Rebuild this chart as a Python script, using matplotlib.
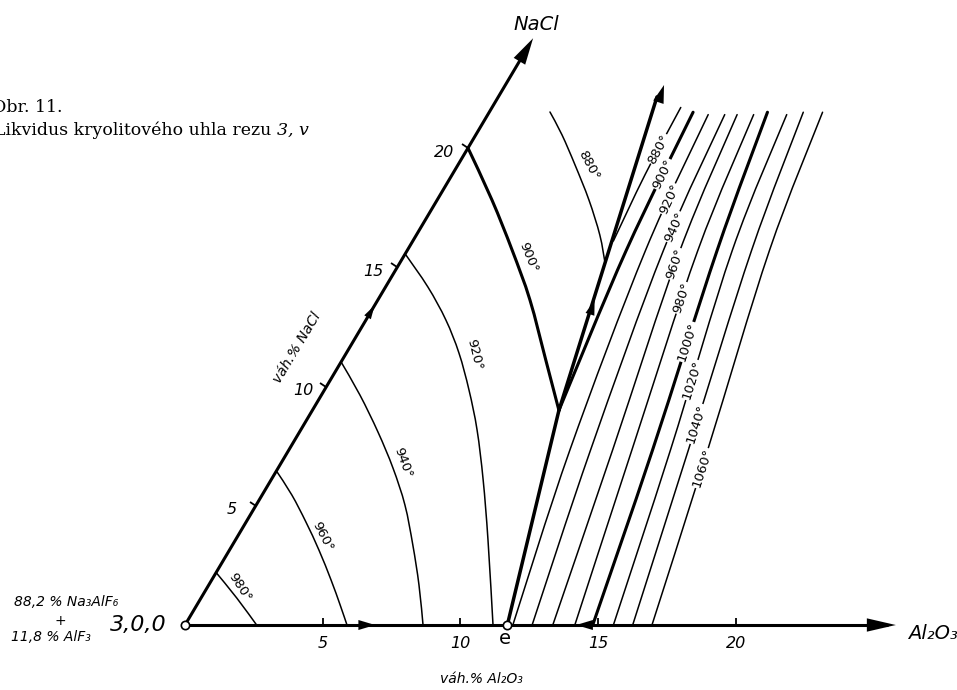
import numpy as np
import matplotlib
matplotlib.use("Agg")
import matplotlib.pyplot as plt
from matplotlib.path import Path
from matplotlib.patches import PathPatch
from matplotlib.markers import MarkerStyle
from matplotlib.transforms import Affine2D

# ---------------- data (composition: wt.% Al2O3, wt.% NaCl) ----------------
axis_ticks = [5, 10, 15, 20]
al2o3_axis_end = 25.8
nacl_axis_end = 24.6
e_point = (11.7, 0.0)
p_point = (8.95, 9.0)
boundary_top = (5.76, 22.64)

# isotherms in the cryolite primary field (left)
left_labels = ["980°", "960°", "940°", "920°", "900°", "880°"]
iso980_a = [0.0, 1.3, 2.6]
iso980_n = [2.2, 1.13, 0.0]
iso960_a = [0.0, 1.08, 2.17, 3.25, 4.33, 5.2, 5.88]
iso960_n = [6.46, 5.45, 4.32, 3.14, 1.89, 0.84, 0.0]
iso940_a = [0.0, 1.4, 2.85, 4.17, 5.4, 6.55, 7.63, 8.64]
iso940_n = [11.03, 9.64, 8.09, 6.58, 5.03, 3.35, 1.68, 0.0]
iso920_a = [0.0, 1.54, 2.9, 4.09, 5.25, 6.4, 7.7, 9.17, 11.18]
iso920_n = [15.56, 14.17, 12.79, 11.4, 9.85, 8.18, 6.08, 3.56, 0.0]
iso900_a = [0.0, 1.99, 3.8, 5.52, 7.39, 8.95]
iso900_n = [20.0, 17.82, 15.72, 13.63, 11.11, 9.0]
iso880_a = [2.2, 3.13, 4.25, 5.51, 6.66, 7.45]
iso880_n = [21.51, 20.55, 19.29, 17.82, 16.35, 15.18]

# isotherms in the alumina primary field (right)
right_labels = ["880°", "900°", "920°", "940°", "960°", "980°", "1000°", "1020°", "1040°", "1060°"]
r880_a = [6.85, 7.0, 7.28];           r880_n = [21.7, 18.9, 16.1]
r900_a = [7.4, 7.95, 8.95];           r900_n = [21.5, 15.7, 9.0]
r920_a = [8.0, 8.65, 10.2, 11.9];     r920_n = [21.4, 15.7, 7.35, 0.0]
r940_a = [8.6, 9.3, 10.95, 12.6];     r940_n = [21.4, 15.7, 7.35, 0.0]
r960_a = [9.05, 9.9, 11.75, 13.35];   r960_n = [21.4, 15.7, 7.35, 0.0]
r980_a = [9.65, 10.55, 12.45, 14.15]; r980_n = [21.4, 15.7, 7.35, 0.0]
r1000_a = [10.1, 11.25, 13.2, 14.8];  r1000_n = [21.5, 15.7, 7.35, 0.0]
r1020_a = [10.85, 11.8, 13.85, 15.55]; r1020_n = [21.4, 15.7, 7.35, 0.0]
r1040_a = [11.4, 12.5, 14.5, 16.25];  r1040_n = [21.5, 15.7, 7.35, 0.0]
r1060_a = [12.1, 13.15, 15.2, 16.95]; r1060_n = [21.5, 15.7, 7.35, 0.0]
right_label_n = [19.96, 18.9, 17.86, 16.69, 15.14, 13.71, 11.87, 10.27, 8.43, 6.58]

# ---------------- geometry ----------------
SK, H = 0.5136, 0.8657   # direction of the NaCl axis in the drawing


def xy(a, n):
    a = np.asarray(a, float)
    n = np.asarray(n, float)
    return a + SK * n, H * n


W, HT = 957, 690
fig = plt.figure(figsize=(W / 100, HT / 100), dpi=100)
ax = fig.add_axes([0, 0, 1, 1])
ax.set_xlim(-6.715, 28.022)
ax.set_ylim(-2.359, 22.686)
ax.axis("off")


def fx(px):
    return px / W


def fy(py):
    return 1 - py / HT


def draw_curve(a, n, lw):
    X, Y = xy(a, n)
    pts = np.column_stack([X, Y])
    m = len(pts)
    if m == 2:
        path = Path(pts)
    else:
        verts = [pts[0]]
        codes = [Path.MOVETO]
        for i in range(m - 1):
            p0 = pts[i - 1] if i > 0 else pts[i]
            p1 = pts[i]
            p2 = pts[i + 1]
            p3 = pts[i + 2] if i + 2 < m else pts[i + 1]
            c1 = p1 + (p2 - p0) / 6
            c2 = p2 - (p3 - p1) / 6
            verts += [c1, c2, p2]
            codes += [Path.CURVE4] * 3
        path = Path(verts, codes)
    ax.add_patch(PathPatch(path, fill=False, lw=lw, ec="black",
                           capstyle="round", joinstyle="round", zorder=2))


def arrow_head(tip, tail, size=14, hl=1.0, hw=0.3):
    ax.annotate("", xy=tip, xytext=tail,
                arrowprops=dict(arrowstyle=f"-|>,head_length={hl},head_width={hw}",
                                lw=0.01, color="black", shrinkA=0, shrinkB=0,
                                mutation_scale=size), zorder=5)


THICK, THIN = 2.2, 1.1
sans = "DejaVu Sans"

# ---------------- axes of the section ----------------
x0, y0 = xy(0, 0)
xa, ya = xy(al2o3_axis_end, 0)
xn, yn = xy(0, nacl_axis_end)
ax.plot([x0, xa - 0.3], [y0, ya], color="black", lw=THICK, solid_capstyle="butt", zorder=3)
ax.plot([x0, xn - 0.3 * SK], [y0, yn - 0.3 * H], color="black", lw=THICK,
        solid_capstyle="butt", zorder=3)
arrow_head(xy(al2o3_axis_end, 0), xy(al2o3_axis_end - 1, 0), size=16, hl=1.3, hw=0.3)
arrow_head(xy(0, nacl_axis_end), xy(0, nacl_axis_end - 1), size=16, hl=1.2, hw=0.3)

# mid-axis arrows
arrow_head(xy(6.9, 0), xy(6.0, 0), size=12, hl=1.0, hw=0.3)
arrow_head(xy(14.2, 0), xy(15.0, 0), size=12, hl=1.0, hw=0.3)
arrow_head(xy(0, 13.4), xy(0, 12.6), size=11, hl=0.9, hw=0.25)

# ticks
ta, tn = xy(axis_ticks, np.zeros(len(axis_ticks)))
ax.plot(ta, tn, ls="none", marker=2, ms=5, mew=1.3, color="black", zorder=3)
ta, tn = xy(np.zeros(len(axis_ticks)), axis_ticks)
mk = MarkerStyle(0, transform=Affine2D().rotate_deg(-31))
ax.plot(ta, tn, ls="none", marker=mk, ms=5, mew=1.3, color="black", zorder=3)

for t in axis_ticks:
    ax.annotate(str(t), xy(t, 0), xytext=(0, -13), textcoords="offset points",
                ha="center", va="center", fontsize=11.5, style="italic", family=sans)
    ax.annotate(str(t), xy(0, t), xytext=(-17, -3), textcoords="offset points",
                ha="center", va="center", fontsize=11.5, style="italic", family=sans)

# ---------------- left isotherms ----------------
left = [(iso980_a, iso980_n), (iso960_a, iso960_n), (iso940_a, iso940_n),
        (iso920_a, iso920_n), (iso900_a, iso900_n), (iso880_a, iso880_n)]
left_lw = [THIN, THIN, THIN, THIN, THICK, THIN]
for (a, n), lw in zip(left, left_lw):
    draw_curve(a, n, lw)

left_label_pos = [(1.18, 1.59), (3.11, 3.69), (4.42, 6.79), (4.68, 11.32), (4.52, 15.43), (4.75, 19.29)]
left_label_rot = [-57, -63, -70, -76, -68, -62]
for s, (a, n), r in zip(left_labels, left_label_pos, left_label_rot):
    X, Y = xy(a, n)
    ax.text(X, Y, s, rotation=r, ha="center", va="center", fontsize=9.5,
            family=sans, rotation_mode="anchor", zorder=4)

# ---------------- boundary curve (eutectic line) ----------------
draw_curve([e_point[0], p_point[0]], [e_point[1], p_point[1]], THICK + 0.3)
draw_curve([p_point[0], boundary_top[0]], [p_point[1], boundary_top[1] - 0.5], THICK + 0.3)
arrow_head(xy(*boundary_top), xy(boundary_top[0] + 0.23, boundary_top[1] - 1.0),
           size=13, hl=1.0, hw=0.3)
t1 = 0.30
pa = (p_point[0] + (boundary_top[0] - p_point[0]) * (t1 + 0.04),
      p_point[1] + (boundary_top[1] - p_point[1]) * (t1 + 0.04))
pb = (p_point[0] + (boundary_top[0] - p_point[0]) * t1,
      p_point[1] + (boundary_top[1] - p_point[1]) * t1)
arrow_head(xy(*pa), xy(*pb), size=11, hl=1.0, hw=0.3)

# ---------------- right isotherms ----------------
right = [(r880_a, r880_n), (r900_a, r900_n), (r920_a, r920_n), (r940_a, r940_n),
         (r960_a, r960_n), (r980_a, r980_n), (r1000_a, r1000_n), (r1020_a, r1020_n),
         (r1040_a, r1040_n), (r1060_a, r1060_n)]
right_lw = [THIN, THICK, THIN, THIN, THIN, THIN, THICK, THIN, THIN, THIN]
for (a, n), lw in zip(right, right_lw):
    draw_curve(a, n, lw)

for s, (a, n), ln in zip(right_labels, right, right_label_n):
    a_r = np.asarray(a)[::-1]
    n_r = np.asarray(n)[::-1]
    al = np.interp(ln, n_r, a_r)
    a1 = np.interp(ln - 0.7, n_r, a_r)
    a2 = np.interp(ln + 0.7, n_r, a_r)
    X, Y = xy(al, ln)
    X1, Y1 = xy(a1, ln - 0.7)
    X2, Y2 = xy(a2, ln + 0.7)
    ang = np.degrees(np.arctan2(Y2 - Y1, X2 - X1))
    ax.text(X, Y, s, rotation=ang, ha="center", va="center", fontsize=9.5,
            family=sans, rotation_mode="anchor", zorder=4,
            bbox=dict(fc="white", ec="none", pad=0.6))

# points
ox, oy = xy([0, e_point[0]], [0, e_point[1]])
ax.plot(ox, oy, ls="none", marker="o", ms=6, mfc="white", mec="black", mew=1.2, zorder=6)
ax.annotate("e", xy(*e_point), xytext=(-2, -10), textcoords="offset points",
            ha="center", va="center", fontsize=14, family=sans)

# ---------------- texts ----------------
ax.annotate("NaCl", xy(0, nacl_axis_end), xytext=(2, 10), textcoords="offset points",
            ha="center", va="center", fontsize=14, style="italic", family=sans)
ax.annotate("Al₂O₃", xy(al2o3_axis_end, 0), xytext=(9, -6), textcoords="offset points",
            ha="left", va="center", fontsize=14, style="italic", family=sans)
ax.annotate("3,0,0", xy(0, 0), xytext=(-13, 0), textcoords="offset points",
            ha="right", va="center", fontsize=16, style="italic", family=sans)

fig.text(fx(66), fy(602), "88,2 % Na₃AlF₆", ha="center", va="center",
         fontsize=10, style="italic", family=sans)
fig.text(fx(60), fy(621), "+", ha="center", va="center", fontsize=10, family=sans)
fig.text(fx(51), fy(637), "11,8 % AlF₃", ha="center", va="center",
         fontsize=10, style="italic", family=sans)

fig.text(fx(481), fy(679), "váh.% Al₂O₃", ha="center", va="center",
         fontsize=10, style="italic", family=sans)
fig.text(fx(297), fy(348), "váh.% NaCl", ha="center", va="center", rotation=59,
         fontsize=10, style="italic", family=sans)

serif = "DejaVu Serif"
fig.text(fx(-8), fy(108), "Obr. 11.", ha="left", va="center", fontsize=12.5, family=serif)
tt = fig.text(fx(-6), fy(130), "Likvidus kryolitového uhla rezu ", ha="left",
              va="center", fontsize=12.5, family=serif)
ax.annotate("3, v", xy=(1, 0.5), xycoords=tt, ha="left", va="center",
            fontsize=12.5, family=serif, style="italic")

fig.savefig("out.png", dpi=100)
